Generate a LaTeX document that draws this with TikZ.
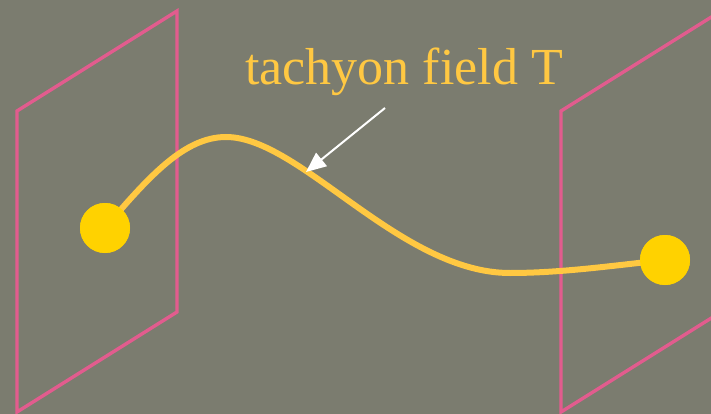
\documentclass[tikz,border=0pt]{standalone}
\usepackage{fontspec}
\setmainfont{Liberation Serif}
\usetikzlibrary{arrows.meta}
\definecolor{bg}{RGB}{123,124,111}
\definecolor{brane}{RGB}{226,92,142}
\definecolor{string}{RGB}{255,200,66}
\definecolor{dot}{RGB}{255,210,0}
\tikzset{
  branestyle/.style={draw=brane, line width=3.4pt, line join=miter},
  endpoint/.style={circle, fill=dot, minimum size=50pt, inner sep=0pt},
  fieldlabel/.style={text=string, font=\fontsize{52}{60}\selectfont, anchor=base, inner sep=0pt},
  pointer/.style={draw=white, line width=2pt, -{Triangle[length=20pt,width=17pt]}}
}
\begin{document}
\begin{tikzpicture}[x=1pt,y=-1pt]
\fill[bg] (0,0) rectangle (711,414);
\useasboundingbox (0,0) rectangle (711,414);
% branes
\draw[branestyle] (17,111) -- (177,11) -- (177,312) -- (17,412) -- cycle;
\draw[branestyle] (561,111) -- (721,11) -- (721,312) -- (561,412) -- cycle;
% endpoints
\node[endpoint] (A) at (105,228) {};
\node[endpoint] (B) at (665,260) {};
% string
\draw[string, line width=6pt] (A.center) .. controls (150,175) and (185,137) .. (226,137)
  .. controls (300,137) and (400,273) .. (510,273)
  .. controls (560,273) and (610,266) .. (B.center);
\node[endpoint] at (A) {};
\node[endpoint] at (B) {};
% label
\node[fieldlabel] (L) at (404,85) {tachyon field T};
\coordinate (P0) at (385,108);
\coordinate (P1) at (306,172);
\draw[pointer] (P0) -- (P1);
\end{tikzpicture}
\end{document}
